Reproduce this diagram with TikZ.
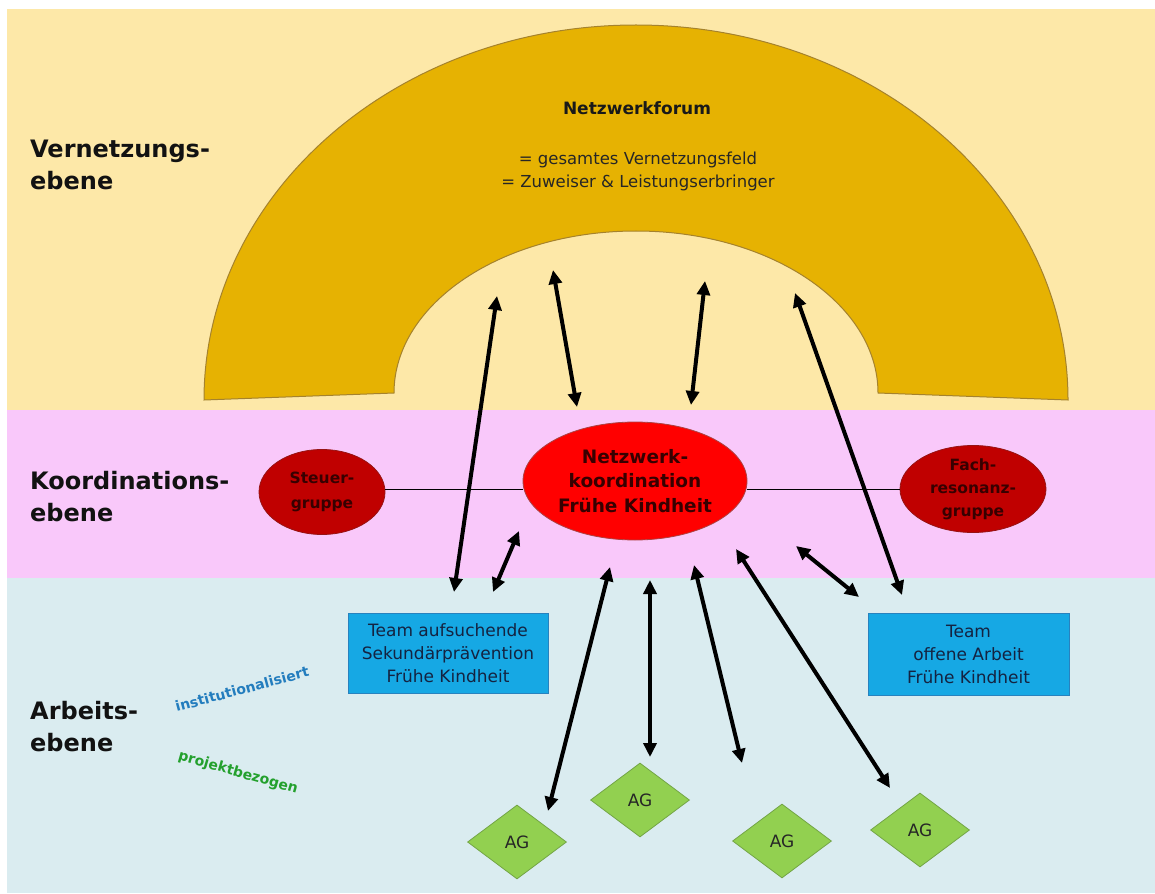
\documentclass[tikz,border=0pt]{standalone}
\usepackage{fontspec}
\setmainfont{DejaVu Sans}
\usetikzlibrary{arrows.meta,shapes.geometric,calc}
\definecolor{bgyellow}{RGB}{253,232,168}
\definecolor{bgpink}{RGB}{249,200,250}
\definecolor{bgblue}{RGB}{218,236,240}
\definecolor{archfill}{RGB}{230,178,2}
\definecolor{archline}{RGB}{165,130,45}
\definecolor{darkred}{RGB}{192,0,0}
\definecolor{ellline}{RGB}{150,20,20}
\definecolor{elltext}{RGB}{55,0,0}
\definecolor{boxblue}{RGB}{22,168,228}
\definecolor{boxline}{RGB}{40,130,190}
\definecolor{agreen}{RGB}{146,208,80}
\definecolor{agline}{RGB}{115,165,70}
\definecolor{txtblue}{RGB}{35,125,190}
\definecolor{txtgreen}{RGB}{35,160,45}
\definecolor{navy}{RGB}{20,35,65}
\begin{document}
\begin{tikzpicture}[x=1pt,y=1pt,
  lvl/.style={anchor=west, align=left, inner sep=0pt, text=black!93,
    font=\fontsize{24}{32}\selectfont\bfseries},
  ellbox/.style={ellipse, inner sep=0pt, align=center, text=elltext,
    font=\fontsize{15.5}{25}\selectfont\bfseries},
  teambox/.style={rectangle, fill=boxblue, draw=boxline, line width=0.8pt,
    inner sep=0pt, align=center, text=navy, font=\fontsize{17}{23}\selectfont},
  agbox/.style={diamond, fill=agreen, draw=agline, line width=0.8pt, inner sep=0pt,
    minimum width=99pt, minimum height=74pt, text=black!85,
    font=\fontsize{17}{20}\selectfont},
  dbl/.style={line width=4pt, {Triangle[length=14pt,width=13pt]}-{Triangle[length=14pt,width=13pt]}},
  conn/.style={line width=0.9pt, draw=black}
]
\useasboundingbox (0,0) rectangle (1155,-893);
% background bands
\fill[white] (0,0) rectangle (1155,-893);
\fill[bgyellow] (7,-9) rectangle (1155,-410);
\fill[bgpink] (7,-410) rectangle (1155,-578);
\fill[bgblue] (7,-578) rectangle (1155,-893);
% arch (Netzwerkforum)
\filldraw[fill=archfill, draw=archline, line width=1pt]
  (204,-400) arc[start angle=180, end angle=0, x radius=432, y radius=375]
  -- (878,-393) arc[start angle=0, end angle=180, x radius=242, y radius=162]
  -- cycle;
\node[anchor=base, font=\fontsize{17}{20}\selectfont\bfseries, text=black!90] (forum) at (637,-115) {Netzwerkforum};
\node[align=center, font=\fontsize{16.5}{23}\selectfont, text=black!85] (forumtxt) at (638,-171)
  {= gesamtes Vernetzungsfeld\\= Zuweiser \& Leistungserbringer};
% level labels
\node[lvl] (lv1) at (30,-165) {Vernetzungs-\\ebene};
\node[lvl] (lv2) at (30,-497) {Koordinations-\\ebene};
\node[lvl] (lv3) at (30,-727) {Arbeits-\\ebene};
% coordination level
\node[ellbox, fill=darkred, draw=ellline, line width=0.8pt, minimum width=126pt, minimum height=85pt] (steuer) at (322,-492) {Steuer-\\gruppe};
\node[ellbox, fill=red, draw=ellline!80, line width=0.8pt, minimum width=224pt, minimum height=118pt,
  font=\fontsize{18.5}{24.5}\selectfont\bfseries] (zentral) at (635,-481) {Netzwerk-\\koordination\\Frühe Kindheit};
\node[ellbox, fill=darkred, draw=ellline, line width=0.8pt, minimum width=146pt, minimum height=87pt,
  font=\fontsize{15.5}{23}\selectfont\bfseries] (fach) at (973,-489) {Fach-\\resonanz-\\gruppe};
\draw[conn] (steuer.east |- 0,-489) -- (zentral.west |- 0,-489);
\draw[conn] (zentral.east |- 0,-489) -- (fach.west |- 0,-489);
% working level
\node[teambox, minimum width=200pt, minimum height=80pt] (team1) at (448,-653) {Team aufsuchende\\Sekundärprävention\\Frühe Kindheit};
\node[teambox, minimum width=201pt, minimum height=82pt] (team2) at (968.5,-654) {Team\\offene Arbeit\\Frühe Kindheit};
\node[rotate=15, inner sep=1pt, font=\fontsize{14}{16}\selectfont\bfseries, text=txtblue] (inst) at (242,-689) {institutionalisiert};
\node[rotate=-16, inner sep=1pt, font=\fontsize{14}{16}\selectfont\bfseries, text=txtgreen] (proj) at (238,-773) {projektbezogen};
\node[agbox] (ag1) at (517,-842) {AG};
\node[agbox] (ag2) at (640,-800) {AG};
\node[agbox] (ag3) at (782,-841) {AG};
\node[agbox] (ag4) at (920,-830) {AG};
% arrow end points
\coordinate (a1s) at (497,-296); \coordinate (a1e) at (454,-592);
\coordinate (a2s) at (553,-270); \coordinate (a2e) at (577,-407);
\coordinate (a3s) at (705,-281); \coordinate (a3e) at (691,-405);
\coordinate (a4s) at (795,-293); \coordinate (a4e) at (902,-595);
\coordinate (a5s) at (519,-531); \coordinate (a5e) at (493,-592);
\coordinate (a6s) at (796,-546); \coordinate (a6e) at (859,-597);
\coordinate (a7s) at (610,-567); \coordinate (a7e) at (548,-811);
\coordinate (a8s) at (650,-580); \coordinate (a8e) at (650,-757);
\coordinate (a9s) at (694,-565); \coordinate (a9e) at (742,-763);
\coordinate (a10s) at (736,-549); \coordinate (a10e) at (890,-788);
\foreach \i in {1,...,10} { \draw[dbl] (a\i s) -- (a\i e); }
\end{tikzpicture}
\end{document}
